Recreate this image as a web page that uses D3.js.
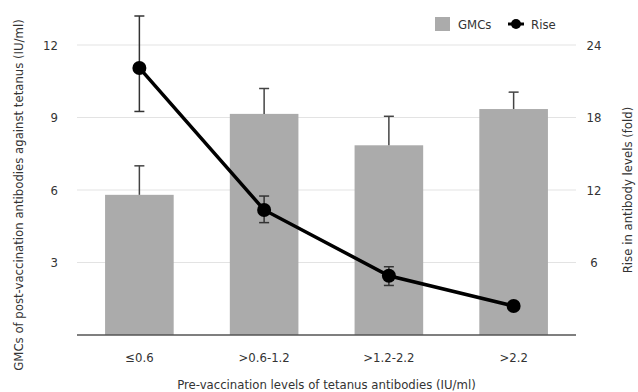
<!DOCTYPE html>
<html>
<head>
<meta charset="utf-8">
<script src="https://cdn.jsdelivr.net/npm/d3@7"></script>
<style>
  body { margin: 0; background: #fff; }
  text { font-family: "Liberation Sans Narrow", "DejaVu Sans Condensed", "Open Sans", sans-serif; fill: #333; }
</style>
</head>
<body>
<div id="chart"></div>
<script>
// data
var categories = ["\u22640.6", ">0.6-1.2", ">1.2-2.2", ">2.2"];
var gmc = [5.8, 9.15, 7.85, 9.35];
var gmcErrUp = [7.0, 10.2, 9.05, 10.05];
var rise = [22.1, 10.35, 4.9, 2.4];
var riseErrLow = [18.5, 9.3, 4.1, null];
var riseErrUp = [26.4, 11.5, 5.65, null];
var leftTicks = [3, 6, 9, 12];
var rightTicks = [6, 12, 18, 24];

var width = 638, height = 392;
var margin = {top: 45, right: 62, bottom: 57, left: 77};

var svg = d3.select("#chart")
  .append("svg")
    .attr("width", width)
    .attr("height", height);

var x = d3.scaleBand()
    .domain(categories)
    .range([margin.left, width - margin.right])
    .paddingInner(0.45)
    .paddingOuter(0.225);

var y = d3.scaleLinear()
    .domain([0, 12])
    .range([height - margin.bottom, margin.top]);

var y2 = d3.scaleLinear()
    .domain([0, 24])
    .range([height - margin.bottom, margin.top]);

// gridlines
svg.append("g")
  .selectAll("line")
  .data(leftTicks)
  .enter()
  .append("line")
    .attr("x1", margin.left)
    .attr("x2", width - margin.right)
    .attr("y1", function(d){ return y(d) })
    .attr("y2", function(d){ return y(d) })
    .style("stroke", "#e3e3e3")
    .style("stroke-width", 1);

// bars
svg.append("g")
  .selectAll("rect")
  .data(gmc)
  .enter()
  .append("rect")
    .attr("x", function(d, i){ return x(categories[i]) })
    .attr("width", x.bandwidth())
    .attr("y", function(d){ return y(d) })
    .attr("height", function(d){ return y(0) - y(d) })
    .style("fill", "#ababab");

// bar error bars (upper only)
var barErr = svg.append("g");
gmc.forEach(function(d, i){
    var cx = x(categories[i]) + x.bandwidth() / 2;
    barErr.append("line")
      .attr("x1", cx).attr("x2", cx)
      .attr("y1", y(d)).attr("y2", y(gmcErrUp[i]))
      .style("stroke", "#444").style("stroke-width", 1.5);
    barErr.append("line")
      .attr("x1", cx - 5).attr("x2", cx + 5)
      .attr("y1", y(gmcErrUp[i])).attr("y2", y(gmcErrUp[i]))
      .style("stroke", "#444").style("stroke-width", 1.5);
});

// baseline
svg.append("line")
  .attr("x1", margin.left)
  .attr("x2", width - margin.right)
  .attr("y1", y(0))
  .attr("y2", y(0))
  .style("stroke", "#555")
  .style("stroke-width", 1.5);

// rise error bars
var riseErr = svg.append("g");
rise.forEach(function(d, i){
    if(riseErrUp[i] == null) return;
    var cx = x(categories[i]) + x.bandwidth() / 2;
    riseErr.append("line")
      .attr("x1", cx).attr("x2", cx)
      .attr("y1", y2(riseErrLow[i])).attr("y2", y2(riseErrUp[i]))
      .style("stroke", "#333").style("stroke-width", 1.5);
    [riseErrLow[i], riseErrUp[i]].forEach(function(v){
        riseErr.append("line")
          .attr("x1", cx - 5).attr("x2", cx + 5)
          .attr("y1", y2(v)).attr("y2", y2(v))
          .style("stroke", "#333").style("stroke-width", 1.5);
    });
});

// rise line
var line = d3.line()
    .x(function(d, i){ return x(categories[i]) + x.bandwidth() / 2 })
    .y(function(d){ return y2(d) });

svg.append("path")
  .datum(rise)
  .attr("d", line)
  .style("fill", "none")
  .style("stroke", "#000")
  .style("stroke-width", 3.5);

svg.append("g")
  .selectAll("circle")
  .data(rise)
  .enter()
  .append("circle")
    .attr("cx", function(d, i){ return x(categories[i]) + x.bandwidth() / 2 })
    .attr("cy", function(d){ return y2(d) })
    .attr("r", 7)
    .style("fill", "#000");

// left tick labels
svg.append("g")
  .selectAll("text")
  .data(leftTicks)
  .enter()
  .append("text")
    .attr("x", 58)
    .attr("y", function(d){ return y(d) })
    .attr("dy", "0.35em")
    .attr("text-anchor", "end")
    .style("font-size", "13px")
    .text(function(d){ return d });

// right tick labels
svg.append("g")
  .selectAll("text")
  .data(rightTicks)
  .enter()
  .append("text")
    .attr("x", 594)
    .attr("y", function(d){ return y2(d) })
    .attr("dy", "0.35em")
    .attr("text-anchor", "middle")
    .style("font-size", "13px")
    .text(function(d){ return d });

// x tick labels
svg.append("g")
  .selectAll("text")
  .data(categories)
  .enter()
  .append("text")
    .attr("x", function(d){ return x(d) + x.bandwidth() / 2 })
    .attr("y", 357)
    .attr("dy", "0.35em")
    .attr("text-anchor", "middle")
    .style("font-size", "13px")
    .text(function(d){ return d });

// axis titles
svg.append("text")
  .attr("x", (margin.left + width - margin.right) / 2)
  .attr("y", 384)
  .attr("dy", "0.35em")
  .attr("text-anchor", "middle")
  .style("font-size", "13px")
  .text("Pre-vaccination levels of tetanus antibodies (IU/ml)");

svg.append("text")
  .attr("transform", "translate(18," + ((margin.top + height - margin.bottom) / 2 + 5) + ") rotate(-90)")
  .attr("dy", "0.35em")
  .attr("text-anchor", "middle")
  .style("font-size", "13px")
  .text("GMCs of post-vaccination antibodies against tetanus  (IU/ml)");

svg.append("text")
  .attr("transform", "translate(627," + ((margin.top + height - margin.bottom) / 2) + ") rotate(-90)")
  .attr("dy", "0.35em")
  .attr("text-anchor", "middle")
  .style("font-size", "13px")
  .text("Rise in antibody levels (fold)");

// legend
var legend = svg.append("g");
legend.append("rect")
  .attr("x", 435).attr("y", 17)
  .attr("width", 15).attr("height", 14)
  .style("fill", "#ababab");
legend.append("text")
  .attr("x", 458).attr("y", 24)
  .attr("dy", "0.35em")
  .style("font-size", "13px")
  .text("GMCs");
legend.append("line")
  .attr("x1", 508).attr("x2", 524)
  .attr("y1", 24).attr("y2", 24)
  .style("stroke", "#000").style("stroke-width", 3);
legend.append("circle")
  .attr("cx", 516).attr("cy", 24).attr("r", 5)
  .style("fill", "#000");
legend.append("text")
  .attr("x", 531).attr("y", 24)
  .attr("dy", "0.35em")
  .style("font-size", "13px")
  .text("Rise");
</script>
</body>
</html>
